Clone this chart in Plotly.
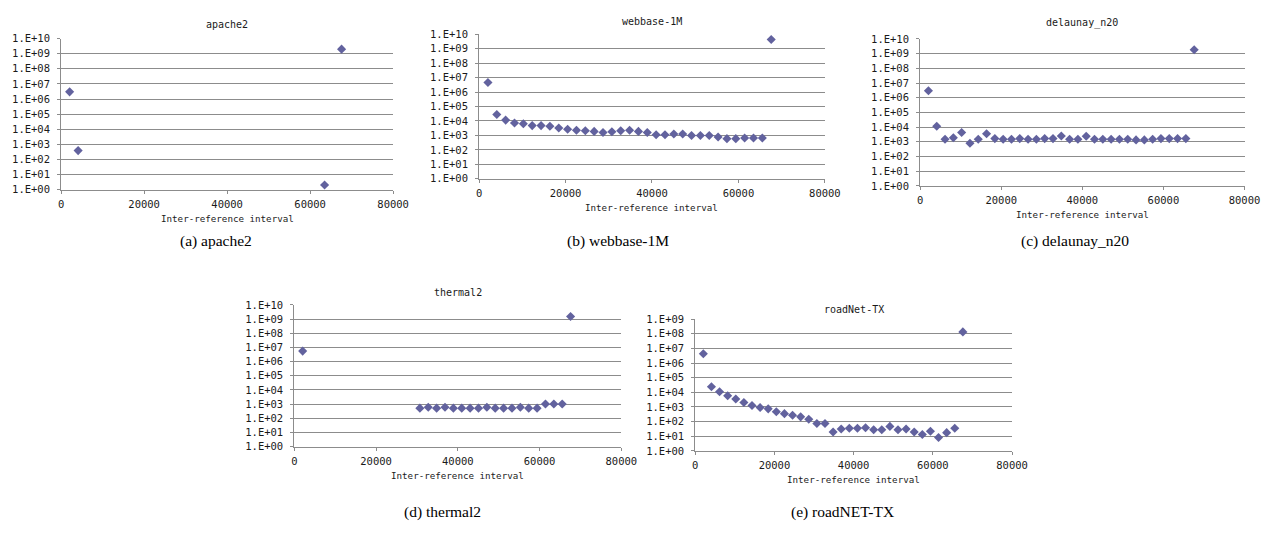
import plotly.graph_objects as go

W, H = 1275, 538

# ---------------- data ----------------
x_full = [2048, 4096, 6144, 8192, 10240, 12288, 14336, 16384, 18432, 20480,
          22528, 24576, 26624, 28672, 30720, 32768, 34816, 36864, 38912, 40960,
          43008, 45056, 47104, 49152, 51200, 53248, 55296, 57344, 59392, 61440,
          63488, 65536, 67584]

apache2_x = [2048, 4096, 63488, 67584]
apache2_y = [3.0e6, 3.9e2, 2.1, 2.0e9]

webbase_y = [4.6e6, 2.8e4, 1.15e4, 7.2e3, 6.5e3, 4.8e3, 4.8e3, 4.3e3, 3.3e3, 2.7e3,
             2.3e3, 2.1e3, 1.9e3, 1.6e3, 1.8e3, 2.1e3, 2.3e3, 1.9e3, 1.6e3, 1.12e3,
             1.12e3, 1.25e3, 1.25e3, 1.0e3, 1.0e3, 1.0e3, 7.8e2, 6.0e2, 6.0e2, 6.6e2,
             6.6e2, 6.6e2, 4.4e9]

delaunay_y = [3.0e6, 1.15e4, 1.5e3, 1.9e3, 4.3e3, 8.0e2, 1.5e3, 3.5e3, 1.65e3, 1.5e3,
              1.5e3, 1.65e3, 1.5e3, 1.5e3, 1.65e3, 1.65e3, 2.5e3, 1.5e3, 1.5e3, 2.4e3,
              1.5e3, 1.5e3, 1.5e3, 1.5e3, 1.5e3, 1.35e3, 1.35e3, 1.5e3, 1.65e3, 1.65e3,
              1.65e3, 1.65e3, 1.85e9]

thermal2_x = [2048, 30720, 32768, 34816, 36864, 38912, 40960, 43008, 45056, 47104,
              49152, 51200, 53248, 55296, 57344, 59392, 61440, 63488, 65536, 67584]
thermal2_y = [5.5e6, 5.2e2, 6.0e2, 5.2e2, 6.0e2, 5.2e2, 5.2e2, 5.2e2, 5.2e2, 6.0e2,
              5.2e2, 5.2e2, 5.2e2, 6.0e2, 5.2e2, 5.2e2, 1.02e3, 1.02e3, 1.02e3, 1.5e9]

roadnet_y = [4.3e6, 2.4e4, 1.1e4, 5.8e3, 3.5e3, 2.0e3, 1.25e3, 9.1e2, 7.4e2, 4.7e2,
             3.5e2, 2.7e2, 2.1e2, 1.45e2, 74, 74, 19.5, 31, 35, 35,
             38, 28, 28, 47, 28, 31, 19.5, 13, 22, 8.2,
             17.6, 35, 1.35e8]

x_ticks = [0, 20000, 40000, 60000, 80000]
y_tickvals_10 = [1e0, 1e1, 1e2, 1e3, 1e4, 1e5, 1e6, 1e7, 1e8, 1e9, 1e10]
y_ticktext_10 = ["1.E+00", "1.E+01", "1.E+02", "1.E+03", "1.E+04", "1.E+05",
                 "1.E+06", "1.E+07", "1.E+08", "1.E+09", "1.E+10"]

titles = ["apache2", "webbase-1M", "delaunay_n20", "thermal2", "roadNet-TX"]
captions = ["(a) apache2", "(b) webbase-1M", "(c) delaunay_n20", "(d) thermal2", "(e) roadNET-TX"]
x_title = "Inter-reference interval"

# ---------------- layout geometry (pixels) ----------------
# (left, right, top, bottom, title_y) of each plot area
boxes = [
    (59, 396, 33.3, 188, 19),
    (483.3, 834.3, 29, 176.7, 15.5),
    (931, 1260.3, 33.7, 184, 17.5),
    (295.7, 627.7, 305.7, 450.7, 293),
    (702.7, 1024.3, 320.3, 455, 310),
]
cap_pos = [(216, 240), (624, 240), (1088, 240), (446, 518), (852, 518)]

series = [
    (apache2_x, apache2_y, 10),
    (x_full, webbase_y, 10),
    (x_full, delaunay_y, 10),
    (thermal2_x, thermal2_y, 10),
    (x_full, roadnet_y, 9),
]

MARK = "#62629e"
GRID = "#8c8c8c"
MONO = "DejaVu Sans Mono"
TICKFONT = dict(family=MONO, size=10.5, color="#1a1a1a")

fig = go.Figure()
layout = dict(
    width=W, height=H, margin=dict(l=0, r=0, t=0, b=0),
    paper_bgcolor="white", plot_bgcolor="white", showlegend=False,
    annotations=[],
)

for i, ((xs, ys, ymax), (l, r, t, b, ty)) in enumerate(zip(series, boxes)):
    n = "" if i == 0 else str(i + 1)
    fig.add_trace(go.Scatter(
        x=xs, y=ys, mode="markers", xaxis="x" + n, yaxis="y" + n,
        marker=dict(symbol="diamond", size=7, color=MARK, line=dict(width=0)),
        cliponaxis=False,
    ))
    xd = [l / W, r / W]
    yd = [1 - b / H, 1 - t / H]
    layout["xaxis" + n] = dict(
        domain=xd, anchor="y" + n, range=[0, 80000], tickvals=x_ticks,
        ticktext=[str(v) for v in x_ticks], showgrid=False, zeroline=False,
        showline=True, linecolor=GRID, linewidth=1, ticks="outside",
        ticklen=3, tickcolor=GRID, tickfont=TICKFONT, ticklabelstandoff=2,
    )
    layout["yaxis" + n] = dict(
        domain=yd, anchor="x" + n, type="log", range=[0, ymax],
        tickvals=y_tickvals_10[:ymax + 1], ticktext=y_ticktext_10[:ymax + 1],
        showgrid=True, gridcolor=GRID, gridwidth=1, zeroline=False,
        showline=True, linecolor=GRID, linewidth=1, ticks="outside",
        ticklen=3, tickcolor=GRID, tickfont=TICKFONT, ticklabelstandoff=5,
    )
    # subplot title
    layout["annotations"].append(dict(
        text=titles[i], x=(xd[0] + xd[1]) / 2, y=1 - ty / H,
        xref="paper", yref="paper", showarrow=False,
        xanchor="center", yanchor="middle",
        font=dict(family=MONO, size=10, color="#1a1a1a"),
    ))
    # x axis title
    layout["annotations"].append(dict(
        text=x_title, x=(xd[0] + xd[1]) / 2, y=1 - (b + 29.5) / H,
        xref="paper", yref="paper", showarrow=False,
        xanchor="center", yanchor="middle",
        font=dict(family=MONO, size=9.2, color="#1a1a1a"),
    ))
    cx, cy = cap_pos[i]
    layout["annotations"].append(dict(
        text=captions[i], x=cx / W, y=1 - cy / H, xref="paper", yref="paper",
        showarrow=False, xanchor="center", yanchor="middle",
        font=dict(family="Liberation Serif", size=15.5, color="black"),
    ))

fig.update_layout(**layout)
fig.write_html(
    "out.html",
    config={"displayModeBar": False},
    post_script="document.body.style.margin='0';document.body.style.overflow='hidden';",
)
